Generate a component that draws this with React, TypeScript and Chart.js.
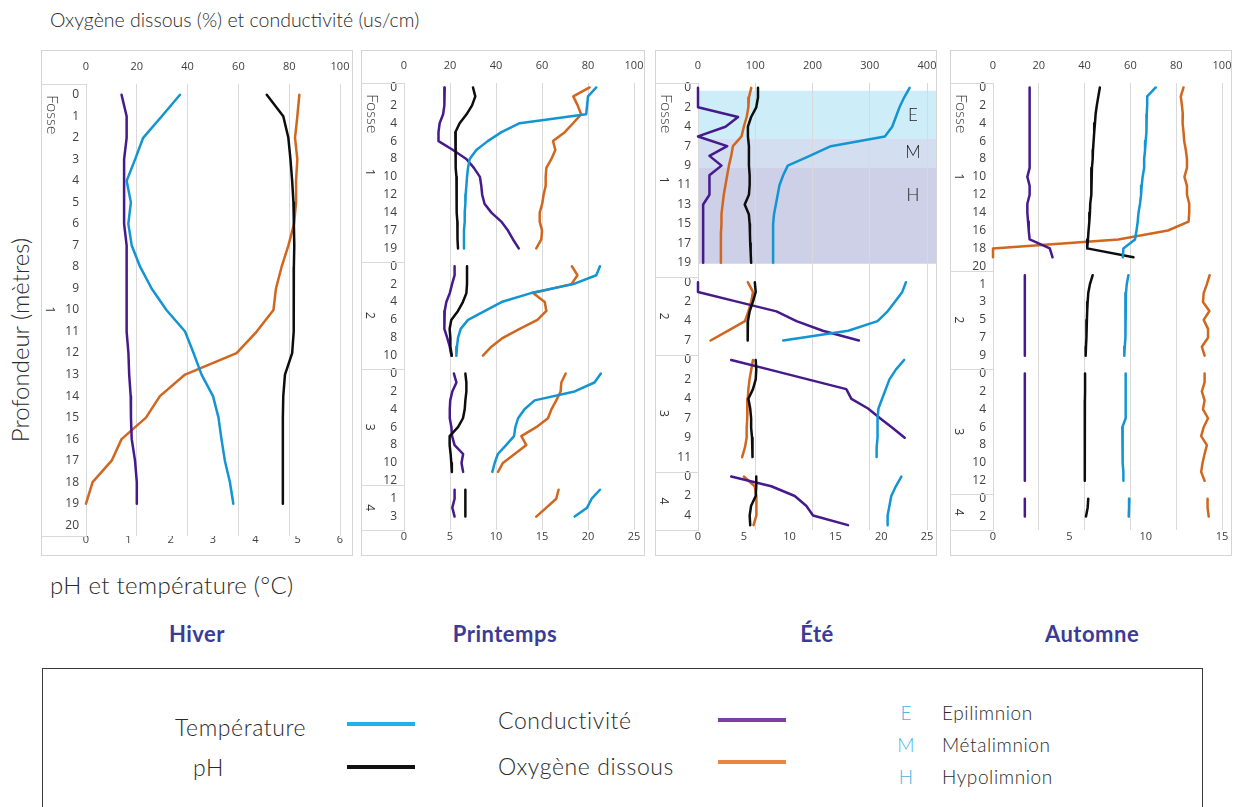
import React, { useEffect, useRef } from 'react';
import { Chart, registerables } from 'chart.js';

Chart.register(...registerables);

const TICK_FONT = '"Open Sans", "Noto Sans", "DejaVu Sans", sans-serif';
const LIGHT_FONT = 'Lato, "Open Sans", sans-serif';

const C_TEMP = '#1395d3';
const C_PH = '#0d0d0d';
const C_COND = '#46198c';
const C_O2 = '#d1661e';
const GRID = '#d9d9d9';
const BORDER = '#d4d4d4';

// ---------------- Texts ----------------
const TITLE_TOP = 'Oxygène dissous (%) et conductivité (us/cm)';
const TITLE_Y = 'Profondeur (mètres)';
const TITLE_BOTTOM = 'pH et température (°C)';
const seasons = ['Hiver', 'Printemps', 'Été', 'Automne'];
const groupNames = ['1', '2', '3', '4'];
const groupTitle = 'Fosse';
const zoneLetters = ['E', 'M', 'H'];
const zoneNames = ['Epilimnion', 'Métalimnion', 'Hypolimnion'];
// zone limits, in category positions of the Été panel (fosse 1)
const zoneFrom = [0.3, 5.2, 8.25];
const zoneTo = [5.2, 8.25, 18.1];
const zoneLabelAt = [2.8, 6.7, 11.1];
const zoneColors = ['#cdeef9', '#d3dff0', '#cdd0e6'];

// ---------------- Hiver ----------------
const hiverDepths = [[0, 1, 2, 3, 4, 5, 6, 7, 8, 9, 10, 11, 12, 13, 14, 15, 16, 17, 18, 19, 20]];
const hiverTemp = [[2.22, 1.79, 1.35, 1.16, 0.96, 1.06, 1.0, 1.08, 1.28, 1.55, 1.9, 2.34, 2.54, 2.73, 3.0, 3.13, 3.2, 3.28, 3.4, 3.48]];
const hiverPH = [[4.27, 4.66, 4.78, 4.83, 4.87, 4.9, 4.91, 4.92, 4.91, 4.91, 4.91, 4.9, 4.87, 4.7, 4.66, 4.65, 4.65, 4.65, 4.65, 4.65]];
const hiverCond = [[14, 16, 16, 15, 15, 15, 15, 16, 16, 16, 16, 16, 16.7, 17, 17.6, 17.7, 18, 19.3, 20, 20]];
const hiverO2 = [[84, 83.2, 82.3, 83.2, 82.7, 82.7, 81.9, 79.7, 77, 74.8, 73.8, 67.2, 59.3, 39, 29.1, 23.6, 14, 10.1, 2.6, 0]];

// ---------------- Printemps ----------------
const printempsDepths = [
  [0, 1, 2, 3, 4, 5, 6, 7, 8, 9, 10, 11, 12, 13, 14, 15, 17, 18, 19, 20],
  [0, 1, 2, 3, 4, 5, 6, 7, 8, 9, 10, 11],
  [0, 1, 2, 3, 4, 5, 6, 7, 8, 9, 10, 11, 12],
  [0, 1, 2, 3, 4],
];
const printempsTemp = [
  [20.9, 20.0, 19.9, 19.8, 12.57, 10.6, 9.1, 7.86, 7.14, 6.96, 6.85, 6.78, 6.7, 6.67, 6.6, 6.6, 6.52, 6.52, 6.52],
  [21.3, 20.9, 18.4, 13.8, 10.6, 8.8, 6.96, 6.16, 5.87, 5.76, 5.69],
  [21.4, 20.7, 18.55, 14.2, 13.1, 12.4, 12.1, 11.96, 11.1, 10.2, 9.86, 9.6],
  [21.3, 20.4, 19.9, 18.55],
];
const printempsPH = [
  [7.5, 7.75, 7.4, 6.8, 6.05, 5.58, 5.58, 5.62, 5.62, 5.65, 5.7, 5.7, 5.72, 5.72, 5.76, 5.8, 5.8, 5.83, 5.87],
  [6.85, 6.85, 6.85, 6.78, 6.4, 5.87, 5.14, 4.96, 5.04, 5.04, 5.2],
  [6.67, 6.78, 6.78, 6.67, 6.6, 6.41, 5.87, 4.96, 4.96, 5.07, 5.14, 5.2],
  [6.67, 6.67, 6.67, 6.67],
];
const printempsCond = [
  [17.7, 17.7, 17.4, 17, 15.5, 15, 15, 21.3, 27.1, 30.4, 33, 33.6, 34, 35, 38, 42.3, 45.2, 47.4, 49.9],
  [22, 22, 20.9, 19.9, 18.4, 17.7, 17.4, 17.7, 18.8, 19.9, 20.6],
  [21.7, 22.8, 21, 20.1, 19.9, 19.9, 20.6, 20.9, 22, 25.7, 25, 25.7],
  [22, 22, 21, 22],
];
const printempsO2 = [
  [80.7, 73.6, 75.5, 77, 73.5, 69.9, 64.8, 65.8, 64.1, 61.9, 61.6, 61.6, 60.7, 60.1, 59, 59, 60, 59.7, 57.5],
  [73, 75.4, 72.8, 56.1, 61.2, 61.9, 58, 50.3, 43, 38, 34.3],
  [70.3, 68.4, 68.1, 66.2, 64.1, 62.6, 57.5, 51, 53.2, 48.1, 43, 40.9],
  [67.2, 66.2, 61.9, 57.5],
];

// ---------------- Été ----------------
const eteDepths = [
  [0, 1, 2, 3, 4, 6, 7, 8, 9, 10, 11, 12, 13, 14, 15, 16, 17, 18, 19, 20],
  [0, 1, 2, 3, 4, 6, 7, 8],
  [0, 1, 2, 3, 4, 6, 7, 8, 9, 10, 11, 12],
  [0, 1, 2, 3, 4, 5],
];
const eteTemp = [
  [23.1, 22.5, 22, 21.6, 21.2, 20.4, 14.5, 12.2, 9.8, 9.3, 8.9, 8.7, 8.5, 8.3, 8.2, 8.2, 8.2, 8.2, 8.2],
  [22.7, 22.3, 21.5, 20.7, 19.6, 16.4, 9.3],
  [22.5, 21.6, 20.9, 20.5, 20.1, 19.7, 19.6, 19.6, 19.6, 19.5, 19.5],
  [22.2, 21.6, 21.1, 20.9, 20.7, 20.7],
];
const etePH = [
  [6.55, 6.55, 6.36, 5.8, 5.45, 5.45, 5.56, 5.56, 5.56, 5.64, 5.64, 5.56, 5.1, 5.55, 5.64, 5.67, 5.7, 5.75, 5.8],
  [6.2, 6.3, 6.0, 5.64, 5.45, 5.45, 5.4],
  [6.3, 6.36, 6.3, 6.0, 5.5, 5.7, 5.8, 5.8, 5.9, 5.9, 6.0],
  [6.36, 6.36, 6.3, 5.8, 5.64, 5.7],
];
const eteCond = [
  [0, 0, 0, 70, 48, 0, 51, 20, 41, 20, 20, 20, 9, 9, 9, 9, 9, 9, 9],
  [0, 0, 68, 137, 172, 218, 281],
  [58, 125, 192, 259, 268, 297, 318, 340, 361],
  [58, 128, 169, 189, 201, 262],
];
const eteO2 = [
  [93, 89, 88, 85, 80, 76, 61, 58, 54, 51, 48, 45, 43, 41, 41, 40, 40, 40, 40],
  [87, 96, 93, 88, 82, 52, 22],
  [96, 93, 90, 88, 87, 86, 86, 85, 85, 82, 77],
  [80, 99, 102, 102, 102, 97],
];

// ---------------- Automne ----------------
const automneDepths = [
  [0, 1, 2, 3, 4, 5, 6, 7, 8, 9, 10, 11, 12, 13, 14, 15, 16, 17, 18, 19, 20],
  [0, 1, 2, 3, 4, 5, 6, 7, 8, 9, 10],
  [0, 1, 2, 3, 4, 5, 6, 7, 8, 9, 10, 11, 12, 13],
  [0, 1, 2, 3],
];
const automneTemp = [
  [10.66, 10.1, 10.1, 10.07, 10.07, 10.03, 10.0, 9.96, 9.9, 9.9, 9.8, 9.74, 9.7, 9.63, 9.53, 9.48, 9.4, 9.3, 8.54, 8.5],
  [8.87, 8.76, 8.71, 8.69, 8.69, 8.67, 8.67, 8.65, 8.63, 8.6],
  [8.69, 8.69, 8.67, 8.69, 8.71, 8.69, 8.47, 8.47, 8.5, 8.5, 8.5, 8.54, 8.54],
  [8.93, 8.91, 8.89],
];
const automnePH = [
  [7.0, 6.9, 6.8, 6.72, 6.68, 6.63, 6.59, 6.55, 6.53, 6.48, 6.46, 6.44, 6.42, 6.37, 6.35, 6.31, 6.26, 6.22, 6.17, 9.2],
  [6.53, 6.35, 6.24, 6.2, 6.17, 6.15, 6.13, 6.11, 6.09, 6.07],
  [6.03, 6.03, 6.03, 6.02, 6.02, 6.02, 6.02, 6.02, 6.01, 6.01, 6.01, 6.0, 6.0],
  [6.24, 6.2, 6.09],
];
const automneCond = [
  [16, 16, 16, 16, 16, 16, 16, 16, 16, 16, 15, 16, 16, 15, 15, 15.3, 15.6, 16, 24.8, 26],
  [13.9, 13.9, 13.9, 13.9, 13.9, 13.9, 13.9, 13.9, 13.9, 13.9],
  [13.9, 13.9, 13.9, 13.9, 13.9, 13.9, 13.9, 13.9, 13.9, 13.9, 13.9, 13.9, 13.9],
  [13.9, 13.9, 13.9],
];
const automneO2 = [
  [83.2, 82, 82.5, 82.9, 82.8, 83.2, 83.5, 84.2, 84.7, 84.7, 83.6, 84.7, 84.7, 85.7, 85.7, 85.4, 76.4, 54.7, 0, 0],
  [94.6, 93.4, 92, 91.7, 94.5, 92, 93.9, 93.9, 91.2, 92.4],
  [92.4, 92.4, 91.2, 92.4, 91.7, 93.9, 92, 90.9, 93.4, 92.4, 91.5, 90.9, 92.4],
  [93.7, 93.7, 94.2],
];

// ---------------- Axis ranges ----------------
const topMax = [100, 100, 400, 100];
const topStep = [20, 20, 100, 20];
const botMax = [6, 25, 25, 15];
const botStep = [1, 5, 5, 5];
const labelEvery = [1, 2, 2, 2];

interface PanelSpec {
  key: string;
  x: number; y: number; w: number; h: number;
  depths: number[][];
  temp: number[][]; ph: number[][]; cond: number[][]; o2: number[][];
  topMax: number; topStep: number; botMax: number; botStep: number;
  every: number;
  yW: number; padR: number; topH: number; botH: number; botPad: number;
  zones: boolean;
}

const PANELS: PanelSpec[] = [
  { key: 'hiver', x: 41, y: 50, w: 312, h: 506, depths: hiverDepths, temp: hiverTemp, ph: hiverPH, cond: hiverCond, o2: hiverO2,
    topMax: topMax[0], topStep: topStep[0], botMax: botMax[0], botStep: botStep[0], every: labelEvery[0],
    yW: 45, padR: 13, topH: 34, botH: 20, botPad: -3, zones: false },
  { key: 'printemps', x: 361, y: 50, w: 284, h: 506, depths: printempsDepths, temp: printempsTemp, ph: printempsPH, cond: printempsCond, o2: printempsO2,
    topMax: topMax[1], topStep: topStep[1], botMax: botMax[1], botStep: botStep[1], every: labelEvery[1],
    yW: 43, padR: 11, topH: 33, botH: 26, botPad: 0, zones: false },
  { key: 'ete', x: 655, y: 50, w: 282, h: 506, depths: eteDepths, temp: eteTemp, ph: etePH, cond: eteCond, o2: eteO2,
    topMax: topMax[2], topStep: topStep[2], botMax: botMax[2], botStep: botStep[2], every: labelEvery[2],
    yW: 43, padR: 10, topH: 33, botH: 26, botPad: 0, zones: true },
  { key: 'automne', x: 950, y: 50, w: 282, h: 506, depths: automneDepths, temp: automneTemp, ph: automnePH, cond: automneCond, o2: automneO2,
    topMax: topMax[3], topStep: topStep[3], botMax: botMax[3], botStep: botStep[3], every: labelEvery[3],
    yW: 43, padR: 10, topH: 33, botH: 26, botPad: 0, zones: false },
];

function flatten(groups: number[][], depths: number[][]): (number | null)[] {
  const out: (number | null)[] = [];
  depths.forEach((d, g) => {
    const vals = groups[g] || [];
    for (let i = 0; i < d.length; i++) out.push(i < vals.length ? vals[i] : null);
  });
  return out;
}

function makePlugin(spec: PanelSpec, sizes: number[]) {
  return {
    id: 'panel_' + spec.key,
    beforeDraw(chart: any) {
      if (!spec.zones) return;
      const ys = chart.scales.y;
      const a = chart.chartArea;
      const ctx = chart.ctx;
      ctx.save();
      zoneFrom.forEach((s, i) => {
        const y0 = ys.getPixelForValue(s);
        const y1 = ys.getPixelForValue(zoneTo[i]);
        ctx.fillStyle = zoneColors[i];
        ctx.fillRect(a.left, y0, chart.width - 1 - a.left, y1 - y0);
      });
      ctx.restore();
    },
    afterDraw(chart: any) {
      const ctx = chart.ctx;
      const a = chart.chartArea;
      const ys = chart.scales.y;
      ctx.save();
      ctx.strokeStyle = BORDER;
      ctx.lineWidth = 1;
      ctx.strokeRect(0.5, 0.5, chart.width - 1, chart.height - 1);
      // group separators in the label column
      ctx.strokeStyle = GRID;
      let start = 0;
      const bounds = [ys.getPixelForValue(-0.5)];
      sizes.forEach((n) => { start += n; bounds.push(ys.getPixelForValue(start - 0.5)); });
      bounds.forEach((b) => {
        const yy = Math.round(b) + 0.5;
        ctx.beginPath();
        ctx.moveTo(0, yy);
        ctx.lineTo(a.left, yy);
        ctx.stroke();
      });
      // group names
      ctx.fillStyle = '#333';
      ctx.font = `12px ${TICK_FONT}`;
      start = 0;
      sizes.forEach((n, g) => {
        const cy = (ys.getPixelForValue(start - 0.5) + ys.getPixelForValue(start + n - 0.5)) / 2;
        ctx.save();
        ctx.translate(8, cy);
        ctx.rotate(Math.PI / 2);
        ctx.textAlign = 'center';
        ctx.textBaseline = 'middle';
        ctx.fillText(groupNames[g], 0, 0);
        ctx.restore();
        start += n;
      });
      ctx.save();
      ctx.translate(11, a.top + 11);
      ctx.rotate(Math.PI / 2);
      ctx.font = `300 16px ${LIGHT_FONT}`;
      ctx.textAlign = 'left';
      ctx.textBaseline = 'middle';
      ctx.fillText(groupTitle, 0, 0);
      ctx.restore();
      if (spec.zones) {
        ctx.fillStyle = '#1a1a1a';
        ctx.font = `300 17px ${LIGHT_FONT}`;
        ctx.textAlign = 'center';
        ctx.textBaseline = 'middle';
        zoneLetters.forEach((l, i) => {
          ctx.fillText(l, 258, ys.getPixelForValue(zoneLabelAt[i]));
        });
      }
      ctx.restore();
    },
  };
}

function Panel({ spec }: { spec: PanelSpec }) {
  const ref = useRef<HTMLCanvasElement>(null);
  useEffect(() => {
    const labels = spec.depths.flat().map(String);
    const sizes = spec.depths.map((d) => d.length);
    const ds = (label: string, data: (number | null)[], color: string, axis: string) => ({
      label, data, borderColor: color, backgroundColor: color, borderWidth: 2.5,
      pointRadius: 0, pointHoverRadius: 0, tension: 0, xAxisID: axis, clip: false as any,
      spanGaps: false, fill: false, borderJoinStyle: 'round' as const, borderCapStyle: 'round' as const,
    });
    const tickFont = { family: TICK_FONT, size: 11 };
    const chart = new Chart(ref.current as HTMLCanvasElement, {
      type: 'line',
      data: {
        labels,
        datasets: [
          ds('Température', flatten(spec.temp, spec.depths), C_TEMP, 'xBot'),
          ds('pH', flatten(spec.ph, spec.depths), C_PH, 'xBot'),
          ds('Conductivité', flatten(spec.cond, spec.depths), C_COND, 'xTop'),
          ds('Oxygène dissous', flatten(spec.o2, spec.depths), C_O2, 'xTop'),
        ],
      },
      options: {
        indexAxis: 'y',
        responsive: false,
        animation: false,
        devicePixelRatio: 1,
        events: [],
        layout: { padding: { left: 0, top: 0, right: spec.padR, bottom: 0 } },
        plugins: { legend: { display: false }, tooltip: { enabled: false } },
        scales: {
          y: {
            type: 'category',
            offset: true,
            grid: { display: false, drawTicks: false },
            border: { display: true, color: GRID },
            ticks: {
              autoSkip: false, padding: 7, font: { family: TICK_FONT, size: 12 }, color: '#404040',
              callback: (_v: any, i: number) => (i % spec.every === 0 ? labels[i] : ''),
            },
            afterFit: (s: any) => { s.width = spec.yW; s.paddingTop = 0; s.paddingBottom = 0; },
          },
          xTop: {
            type: 'linear', position: 'top', min: 0, max: spec.topMax,
            grid: { color: GRID, drawTicks: false, lineWidth: 1 },
            border: { display: false },
            ticks: { stepSize: spec.topStep, padding: 11, font: tickFont, color: '#404040' },
            afterFit: (s: any) => { s.height = spec.topH; s.paddingLeft = 0; s.paddingRight = 0; },
          },
          xBot: {
            type: 'linear', position: 'bottom', min: 0, max: spec.botMax,
            grid: { display: false, drawTicks: false },
            border: { display: false },
            ticks: { stepSize: spec.botStep, padding: spec.botPad, font: tickFont, color: '#404040' },
            afterFit: (s: any) => { s.height = spec.botH; s.paddingLeft = 0; s.paddingRight = 0; },
          },
        },
      } as any,
      plugins: [makePlugin(spec, sizes)],
    });
    return () => chart.destroy();
  }, [spec]);
  return (
    <canvas
      ref={ref}
      width={spec.w}
      height={spec.h}
      style={{ position: 'absolute', left: spec.x, top: spec.y, width: spec.w, height: spec.h }}
    />
  );
}

const seasonX = [197, 505, 817, 1092];
const lightText = (extra: React.CSSProperties): React.CSSProperties => ({
  position: 'absolute', fontFamily: LIGHT_FONT, fontWeight: 300, whiteSpace: 'nowrap', color: '#2a2a2a', ...extra,
});

export default function App() {
  return (
    <div style={{ position: 'absolute', left: 0, top: 0, width: 1235, height: 807, overflow: 'hidden', background: '#fff' }}>
      <div style={lightText({ left: 50, top: 6, fontSize: 19.5, lineHeight: '28px' })}>{TITLE_TOP}</div>
      <div style={lightText({ left: 20, top: 340, fontSize: 24, lineHeight: '30px', transform: 'translate(-50%, -50%) rotate(-90deg)' })}>{TITLE_Y}</div>
      {PANELS.map((p) => <Panel key={p.key} spec={p} />)}
      <div style={lightText({ left: 50, top: 570, fontSize: 24, lineHeight: '30px', letterSpacing: 0.3 })}>{TITLE_BOTTOM}</div>
      {seasons.map((s, i) => (
        <div key={s} style={{ position: 'absolute', left: seasonX[i], top: 619, transform: 'translateX(-50%)', fontFamily: LIGHT_FONT, fontWeight: 700, fontSize: 22, letterSpacing: 0.5, lineHeight: '30px', color: '#3b3b98', whiteSpace: 'nowrap' }}>{s}</div>
      ))}
      <div style={{ position: 'absolute', left: 42, top: 668, width: 1161, height: 170, border: '1.5px solid #3a3a3a', boxSizing: 'border-box' }} />
      <div style={lightText({ left: 175, top: 712, fontSize: 23, letterSpacing: 0.6, lineHeight: '30px' })}>Température</div>
      <div style={lightText({ left: 193, top: 752, fontSize: 23, letterSpacing: 0.6, lineHeight: '30px' })}>pH</div>
      <div style={{ position: 'absolute', left: 347, top: 722, width: 68, height: 4, background: '#1fb2ea' }} />
      <div style={{ position: 'absolute', left: 347, top: 765, width: 68, height: 4, background: '#111' }} />
      <div style={lightText({ left: 498, top: 705, fontSize: 23, letterSpacing: 0.6, lineHeight: '30px' })}>Conductivité</div>
      <div style={lightText({ left: 498, top: 751, fontSize: 23, letterSpacing: 0.6, lineHeight: '30px' })}>Oxygène dissous</div>
      <div style={{ position: 'absolute', left: 718, top: 718, width: 68, height: 4, background: '#7d3fa3' }} />
      <div style={{ position: 'absolute', left: 718, top: 760, width: 68, height: 4, background: '#ec8540' }} />
      {zoneLetters.map((l, i) => (
        <React.Fragment key={l}>
          <div style={lightText({ left: 906, top: 699 + i * 32, fontSize: 19, lineHeight: '28px', color: '#4cb4e7', transform: 'translateX(-50%)' })}>{l}</div>
          <div style={lightText({ left: 942, top: 699 + i * 32, fontSize: 19, letterSpacing: 0.6, lineHeight: '28px' })}>{zoneNames[i]}</div>
        </React.Fragment>
      ))}
    </div>
  );
}
